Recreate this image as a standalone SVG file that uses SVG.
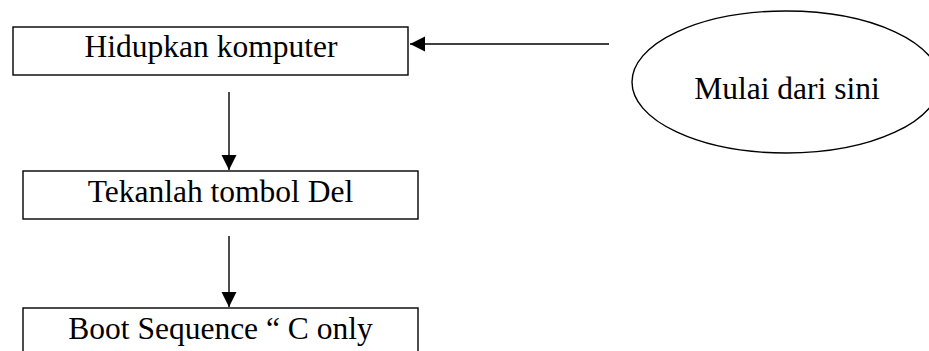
<svg xmlns="http://www.w3.org/2000/svg" width="929" height="351" viewBox="0 0 929 351">
<style>
.box{fill:#fff;stroke:#000;stroke-width:1.4}
.lbl{font-family:"Liberation Serif","Times New Roman",serif;font-size:31.5px;fill:#000}
.con{stroke:#000;stroke-width:1.4;fill:none}
</style>
<defs>
<marker id="ah" markerUnits="userSpaceOnUse" markerWidth="16" markerHeight="16" viewBox="0 0 16 16" refX="15" refY="8" orient="auto">
<path d="M0,0.5 L15,8 L0,15.5 Z" fill="#000"/>
</marker>
</defs>
<rect width="929" height="351" fill="#fff"/>
<g id="start">
<ellipse class="box" cx="786" cy="82" rx="154" ry="71"/>
<text class="lbl" x="787" y="99" text-anchor="middle">Mulai dari sini</text>
</g>
<g id="hidupkan">
<rect class="box" x="13" y="27" width="395" height="48"/>
<text class="lbl" x="211" y="57" text-anchor="middle">Hidupkan komputer</text>
</g>
<g id="tekan">
<rect class="box" x="23" y="171" width="395" height="48"/>
<text class="lbl" x="220.5" y="202" text-anchor="middle">Tekanlah tombol Del</text>
</g>
<g id="boot">
<rect class="box" x="23" y="308" width="395" height="60"/>
<text class="lbl" x="220.5" y="339" text-anchor="middle">Boot Sequence “ C only</text>
</g>
<g id="connectors">
<line class="con" x1="609" y1="44" x2="410" y2="44" marker-end="url(#ah)"/>
<line class="con" x1="229" y1="92" x2="229" y2="170" marker-end="url(#ah)"/>
<line class="con" x1="229" y1="236" x2="229" y2="307" marker-end="url(#ah)"/>
</g>
</svg>
